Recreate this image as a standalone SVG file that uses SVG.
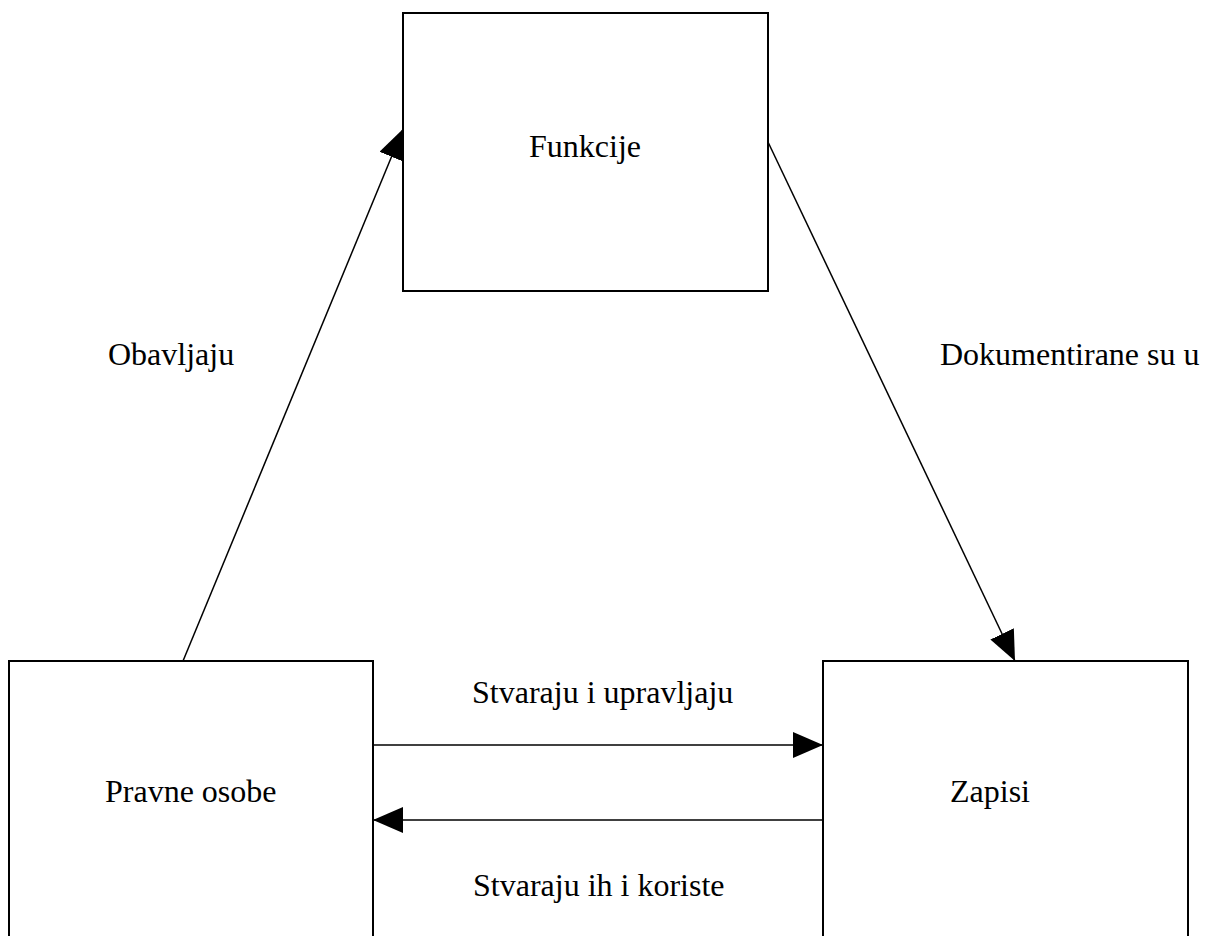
<svg xmlns="http://www.w3.org/2000/svg" width="1210" height="936" viewBox="0 0 1210 936">
<style>
.box{fill:#fff;stroke:#000;stroke-width:2}
.ln{fill:none;stroke:#000;stroke-width:1.5}
text{font-family:"Liberation Serif","Times New Roman",serif;font-size:32px;fill:#000}
</style>
<defs>
<marker id="ah" markerUnits="userSpaceOnUse" markerWidth="32" markerHeight="28" refX="30" refY="13" orient="auto" viewBox="0 0 32 28">
<path d="M0,0 L30,13 L0,26 Z" fill="#000"/>
</marker>
</defs>
<rect width="1210" height="936" fill="#fff"/>
<g id="funkcije"><rect class="box" x="403" y="13" width="365" height="278"/><text x="529" y="157">Funkcije</text></g>
<g id="pravne-osobe"><rect class="box" x="9" y="661" width="364" height="290"/><text x="105" y="802">Pravne osobe</text></g>
<g id="zapisi"><rect class="box" x="823" y="661" width="365" height="290"/><text x="950" y="802">Zapisi</text></g>
<g id="connectors">
<line class="ln" x1="183" y1="661" x2="403" y2="129" marker-end="url(#ah)"/>
<line class="ln" x1="768" y1="142" x2="1015" y2="661" marker-end="url(#ah)"/>
<line class="ln" x1="373" y1="745" x2="823" y2="745" marker-end="url(#ah)"/>
<line class="ln" x1="823" y1="820" x2="373" y2="820" marker-end="url(#ah)"/>
</g>
<g id="labels">
<text x="108" y="365">Obavljaju</text>
<text x="940" y="365">Dokumentirane su u</text>
<text x="472" y="703">Stvaraju i upravljaju</text>
<text x="473" y="896">Stvaraju ih i koriste</text>
</g>
</svg>
